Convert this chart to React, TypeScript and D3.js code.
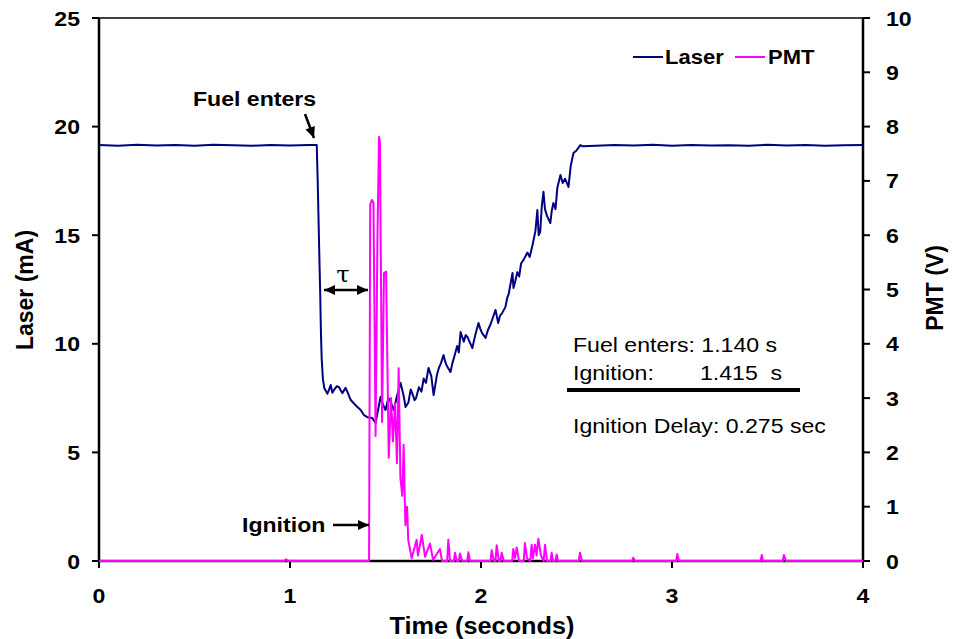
import React from "react";
import * as d3 from "d3";

const laserT = [0, 0.1, 0.2, 0.3, 0.4, 0.5, 0.6, 0.7, 0.8, 0.9, 1.0, 1.1, 1.14, 1.145, 1.15, 1.155, 1.158, 1.162, 1.166, 1.172, 1.18, 1.196, 1.205, 1.213, 1.222, 1.23, 1.245, 1.257, 1.266, 1.274, 1.291, 1.3, 1.318, 1.335, 1.353, 1.37, 1.387, 1.405, 1.431, 1.448, 1.462, 1.474, 1.487, 1.5, 1.515, 1.527, 1.544, 1.56, 1.579, 1.595, 1.605, 1.62, 1.632, 1.64, 1.652, 1.66, 1.675, 1.688, 1.7, 1.712, 1.725, 1.74, 1.752, 1.77, 1.78, 1.79, 1.804, 1.812, 1.82, 1.84, 1.85, 1.86, 1.875, 1.884, 1.893, 1.91, 1.92, 1.93, 1.955, 1.962, 1.97, 1.987, 1.996, 2.005, 2.024, 2.035, 2.05, 2.062, 2.076, 2.09, 2.1, 2.11, 2.128, 2.137, 2.145, 2.165, 2.17, 2.18, 2.19, 2.2, 2.21, 2.225, 2.243, 2.255, 2.27, 2.285, 2.295, 2.302, 2.31, 2.318, 2.327, 2.335, 2.345, 2.363, 2.37, 2.379, 2.39, 2.4, 2.416, 2.428, 2.44, 2.458, 2.47, 2.484, 2.5, 2.52, 2.53, 2.6, 2.7, 2.8, 2.9, 3.0, 3.1, 3.2, 3.3, 3.4, 3.5, 3.6, 3.7, 3.8, 3.9, 4.0];
const laserMA = [19.15, 19.12, 19.16, 19.13, 19.15, 19.12, 19.16, 19.14, 19.12, 19.15, 19.13, 19.15, 19.15, 17.5, 15.5, 13.5, 12.4, 10.5, 9.3, 8.4, 7.95, 7.7, 7.9, 8.1, 7.75, 7.87, 8.05, 8.0, 7.85, 7.73, 7.97, 7.8, 7.41, 7.25, 7.09, 6.95, 6.72, 6.62, 6.58, 6.35, 7.0, 7.55, 7.2, 6.95, 7.5, 7.32, 6.95, 7.6, 8.2, 7.6, 7.09, 7.3, 7.9, 7.73, 7.4, 7.5, 8.0, 7.8, 8.4, 8.2, 8.89, 8.5, 7.64, 8.6, 8.9, 9.1, 9.48, 9.2, 9.0, 8.7, 9.1, 9.4, 9.9, 9.6, 10.54, 10.1, 10.4, 10.3, 9.8, 10.1, 10.4, 10.96, 10.7, 10.5, 10.27, 10.6, 10.9, 11.2, 11.56, 10.96, 11.3, 11.4, 11.7, 12.1, 12.3, 13.26, 12.57, 12.9, 13.3, 13.1, 13.7, 13.9, 14.2, 14.0, 14.55, 15.2, 16.16, 15.0, 15.15, 16.3, 17.0, 16.2, 15.9, 15.56, 16.1, 16.48, 16.2, 17.2, 17.77, 17.4, 17.6, 17.22, 18.2, 18.78, 18.9, 19.15, 19.1, 19.12, 19.15, 19.13, 19.16, 19.12, 19.15, 19.13, 19.14, 19.12, 19.16, 19.13, 19.15, 19.12, 19.14, 19.15];

const pmtT = [0, 0.97, 0.98, 0.99, 1.414, 1.42, 1.429, 1.437, 1.448, 1.458, 1.466, 1.471, 1.482, 1.492, 1.503, 1.517, 1.529, 1.539, 1.55, 1.56, 1.569, 1.578, 1.588, 1.595, 1.604, 1.613, 1.619, 1.637, 1.663, 1.67, 1.69, 1.707, 1.733, 1.749, 1.785, 1.796, 1.823, 1.829, 1.838, 1.858, 1.864, 1.874, 1.884, 1.89, 1.901, 1.928, 1.934, 1.942, 2.05, 2.056, 2.068, 2.076, 2.082, 2.094, 2.102, 2.108, 2.12, 2.163, 2.169, 2.178, 2.187, 2.199, 2.224, 2.23, 2.241, 2.258, 2.265, 2.272, 2.283, 2.291, 2.3, 2.314, 2.328, 2.335, 2.346, 2.364, 2.37, 2.377, 2.39, 2.396, 2.403, 2.512, 2.518, 2.529, 2.791, 2.797, 2.806, 3.022, 3.028, 3.037, 3.464, 3.47, 3.476, 3.58, 3.586, 3.597, 4.0];
const pmtV = [0, 0, 0.03, 0, 0, 6.56, 6.65, 6.6, 2.3, 6.0, 7.81, 7.7, 2.56, 5.3, 5.33, 1.9, 3.0, 2.2, 2.9, 1.8, 3.55, 1.53, 1.2, 2.14, 0.66, 1.0, 0.39, 0.05, 0.39, 0.1, 0.48, 0.08, 0.32, 0.02, 0.22, 0.0, 0.0, 0.39, 0.0, 0.0, 0.15, 0.0, 0.0, 0.14, 0.0, 0.0, 0.16, 0.0, 0.0, 0.2, 0.0, 0.0, 0.29, 0.0, 0.0, 0.15, 0.0, 0.0, 0.22, 0.05, 0.25, 0.0, 0.0, 0.33, 0.05, 0.0, 0.3, 0.05, 0.3, 0.1, 0.41, 0.1, 0.0, 0.3, 0.0, 0.0, 0.15, 0.0, 0.0, 0.12, 0.0, 0.0, 0.15, 0.0, 0.0, 0.06, 0, 0, 0.13, 0, 0, 0.11, 0, 0, 0.11, 0, 0];

const xTicks = [0, 1, 2, 3, 4];
const leftTicks = [0, 5, 10, 15, 20, 25];
const rightTicks = [0, 1, 2, 3, 4, 5, 6, 7, 8, 9, 10];

const FONT = "Arial, 'Liberation Sans', sans-serif";
const SX = 1.1;

function T({ x, y, size, bold = true, anchor = "start", rotate = 0, children, fill = "#000", family = FONT }: any) {
  const tr = rotate ? `translate(${x},${y}) rotate(${rotate})` : `translate(${x},${y}) scale(${SX},1)`;
  return (
    <text transform={tr} fontSize={size} fontWeight={bold ? "bold" : "normal"} textAnchor={anchor} fontFamily={family} fill={fill} style={{ whiteSpace: "pre" }}>
      {children}
    </text>
  );
}

function Arrow({ x1, y1, x2, y2, both = false }: any) {
  const ang = Math.atan2(y2 - y1, x2 - x1);
  const L = 11, W = 5;
  const head = (px: number, py: number, a: number) => {
    const bx = px - L * Math.cos(a), by = py - L * Math.sin(a);
    const nx = -Math.sin(a) * W, ny = Math.cos(a) * W;
    return `M${px},${py}L${bx + nx},${by + ny}L${bx - nx},${by - ny}Z`;
  };
  return (
    <g>
      <line x1={x1} y1={y1} x2={x2} y2={y2} stroke="#000" strokeWidth={2.5} />
      <path d={head(x2, y2, ang)} fill="#000" />
      {both && <path d={head(x1, y1, ang + Math.PI)} fill="#000" />}
    </g>
  );
}

export default function App() {
  const x = d3.scaleLinear().domain([0, 4]).range([99, 863]);
  const yL = d3.scaleLinear().domain([0, 25]).range([561, 18]);
  const yR = d3.scaleLinear().domain([0, 10]).range([561, 18]);

  const laserData = laserT.map((t, i) => [t, laserMA[i]] as [number, number]);
  const pmtData = pmtT.map((t, i) => [t, pmtV[i]] as [number, number]);
  const laserLine = d3.line<[number, number]>().x((d) => x(d[0])).y((d) => yL(d[1]))(laserData) as string;
  const pmtLine = d3.line<[number, number]>().x((d) => x(d[0])).y((d) => yR(d[1]))(pmtData) as string;

  return (
    <svg width={955} height={639} style={{ position: "absolute", left: 0, top: 0, background: "#fff" }}>
      <line x1={x(0)} x2={x(4)} y1={yL(25)} y2={yL(25)} stroke="#000" strokeWidth={1.5} />
      <line x1={x(0)} x2={x(4)} y1={yL(0)} y2={yL(0)} stroke="#000" strokeWidth={2.5} />
      <line x1={x(0)} x2={x(0)} y1={yL(0)} y2={yL(25)} stroke="#000" strokeWidth={2.5} />
      <line x1={x(4)} x2={x(4)} y1={yL(0)} y2={yL(25)} stroke="#000" strokeWidth={2.5} />

      {leftTicks.map((v) => (
        <g key={"l" + v}>
          <line x1={x(0) - 7} x2={x(0)} y1={yL(v)} y2={yL(v)} stroke="#000" strokeWidth={2} />
          <T x={80} y={yL(v) + 7.5} size={21} anchor="end">{v}</T>
        </g>
      ))}
      {rightTicks.map((v) => (
        <g key={"r" + v}>
          <line x1={x(4)} x2={x(4) + 7} y1={yR(v)} y2={yR(v)} stroke="#000" strokeWidth={2} />
          <T x={886} y={yR(v) + 7.5} size={21}>{v}</T>
        </g>
      ))}
      {xTicks.map((v) => (
        <g key={"x" + v}>
          <line x1={x(v)} x2={x(v)} y1={yL(0)} y2={yL(0) + 7} stroke="#000" strokeWidth={2} />
          <T x={x(v)} y={603} size={21} anchor="middle">{v}</T>
        </g>
      ))}

      <T x={482} y={634} size={23} anchor="middle">Time (seconds)</T>
      <T x={33} y={290} size={23} anchor="middle" rotate={-90}>Laser (mA)</T>
      <T x={943} y={288} size={23} anchor="middle" rotate={-90}>PMT (V)</T>

      <path d={laserLine} fill="none" stroke="#000080" strokeWidth={2} strokeLinejoin="round" />
      <path d={pmtLine} fill="none" stroke="#ff00ff" strokeWidth={2} strokeLinejoin="round" />

      <line x1={633} x2={663} y1={57} y2={57} stroke="#000080" strokeWidth={2} />
      <T x={665} y={64} size={20}>Laser</T>
      <line x1={735} x2={765} y1={57} y2={57} stroke="#ff00ff" strokeWidth={2} />
      <T x={768} y={64} size={20}>PMT</T>

      <T x={193} y={106} size={21}>Fuel enters</T>
      <Arrow x1={305} y1={114} x2={314} y2={138} />
      <T x={343} y={282} size={22} anchor="middle" bold={false} family="'DejaVu Serif', serif">τ</T>
      <Arrow x1={324} y1={290} x2={368} y2={290} both />
      <T x={242} y={532} size={21}>Ignition</T>
      <Arrow x1={333} y1={525} x2={369} y2={525} />

      <T x={573} y={352} size={21} bold={false}>Fuel enters: 1.140 s</T>
      <T x={573} y={380} size={21} bold={false}>Ignition:</T>
      <T x={700} y={380} size={21} bold={false}>{"1.415  s"}</T>
      <line x1={567} x2={800} y1={390} y2={390} stroke="#000" strokeWidth={4} />
      <T x={573} y={433} size={21} bold={false}>Ignition Delay: 0.275 sec</T>
    </svg>
  );
}
